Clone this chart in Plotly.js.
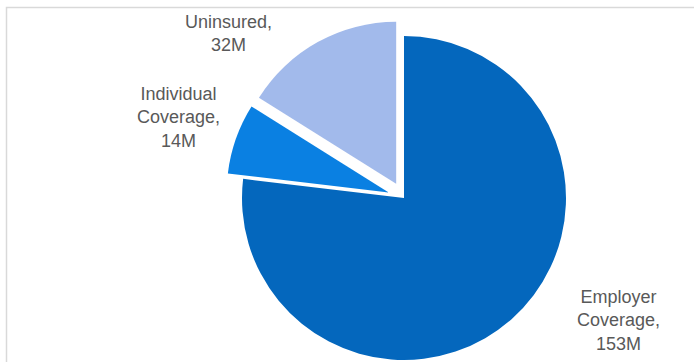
<!DOCTYPE html>
<html>
<head>
<meta charset="utf-8">
<script src="https://cdn.plot.ly/plotly-3.0.1.min.js"></script>
<style>
html,body{margin:0;padding:0;overflow:hidden;background:#fff;width:694px;height:362px;}
#chart{width:694px;height:400px;}
</style>
</head>
<body>
<div id="chart"></div>
<script>
// Data
var labels = ["Employer Coverage", "Individual Coverage", "Uninsured"];
var values = [153, 14, 32];
var unit = "M";
var colors = ["#0467BD", "#0A80E2", "#A2BAEB"];
var pulls = [0, 0.1, 0.1];

var W = 694, H = 400;
function px(x){ return x / W; }
function py(y){ return 1 - y / H; }

// label placement (pixel centres)
var labelPos = [[618, 320], [178, 118], [228, 34]];

var annotations = labels.map(function(l, i){
  return {
    text: l.replace(" ", "<br>") + ",<br>" + values[i] + unit,
    x: px(labelPos[i][0]), y: py(labelPos[i][1]),
    xref: "paper", yref: "paper", xanchor: "center", yanchor: "middle",
    showarrow: false, align: "center",
    font: {family: "Liberation Sans, Arial, sans-serif", size: 18, color: "#595959"}
  };
});

var trace = {
  type: "pie",
  labels: labels,
  values: values,
  sort: false,
  direction: "clockwise",
  rotation: 0,
  pull: pulls,
  marker: {colors: colors, line: {color: "#ffffff", width: 0}},
  textinfo: "none",
  hoverinfo: "none",
  showlegend: false,
  domain: {x: [px(225.8), px(582.2)], y: [py(376.2), py(19.8)]}
};

var layout = {
  width: W, height: H,
  margin: {l: 0, r: 0, t: 0, b: 0},
  paper_bgcolor: "#ffffff",
  showlegend: false,
  annotations: annotations,
  shapes: [{
    type: "rect", xref: "paper", yref: "paper",
    x0: px(6.5), x1: px(720), y0: py(500), y1: py(7.5),
    line: {color: "#D9D9D9", width: 1.5}, fillcolor: "rgba(0,0,0,0)"
  }]
};

Plotly.newPlot("chart", [trace], layout, {staticPlot: true, displayModeBar: false});
</script>
</body>
</html>
